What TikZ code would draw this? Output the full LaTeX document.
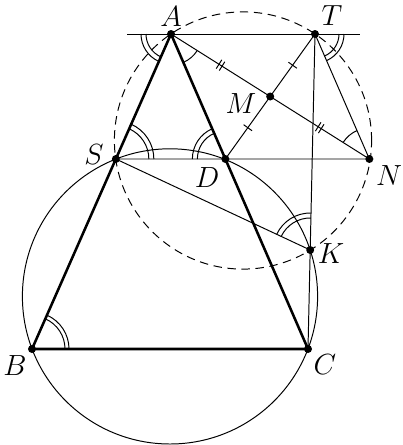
\documentclass[tikz,border=0pt]{standalone}
\usepackage{amsmath, amssymb}
\usepackage{tikz}
\usetikzlibrary{calc, angles, decorations.markings}

\tikzset{
  thinline/.style={line width=0.7pt},
  thickline/.style={line width=1.8pt},
  lbl/.style={font=\fontsize{20}{22}\selectfont, inner sep=0pt},
  arcmark/.style={draw, thinline},
  tickone/.style={postaction={decorate, decoration={markings,
      mark=at position 0.5 with {\draw[thinline] (0,-1.3mm) -- (0,1.3mm);}}}},
  ticktwo/.style={postaction={decorate, decoration={markings,
      mark=at position 0.5 with {\draw[thinline] (-0.45mm,-1.3mm) -- (-0.45mm,1.3mm)
        (0.45mm,-1.3mm) -- (0.45mm,1.3mm);}}}}
}

\begin{document}
\begin{tikzpicture}[x=0.25mm, y=-0.25mm]
    \useasboundingbox (0,0) rectangle (403,445);

    % Points
    \coordinate (A) at (171,34);
    \coordinate (T) at (315,34);
    \coordinate (B) at (32,349);
    \coordinate (C) at (308,349);
    \coordinate (L) at (127,34);
    \coordinate (R) at (360,34);
    \coordinate (D) at ($(A)!125/315!(C)$);
    \coordinate (S) at ($(A)!125/315!(B)$);
    \coordinate (M) at ($(T)!0.5!(D)$);
    \coordinate (N) at ($(A)!2!(M)$);
    \coordinate (K) at ($(T)!216/315!(C)$);
    \coordinate (O1) at (243,140.5);
    \coordinate (O2) at (170,296.4);

    % Circles
    \draw[thinline, dashed, dash pattern=on 6pt off 4pt] (O1) circle [radius=32.15mm];
    \draw[thinline] (O2) circle [radius=36.9mm];

    % Lines
    \draw[thinline] (L) -- (R);
    \draw[thinline] (S) -- (N);
    \draw[thinline] (T) -- (C);
    \draw[thinline] (T) -- (N);
    \draw[thinline] (S) -- (K);
    \draw[thinline, ticktwo] (A) -- (M);
    \draw[thinline, ticktwo] (M) -- (N);
    \draw[thinline, tickone] (T) -- (M);
    \draw[thinline, tickone] (M) -- (D);
    \draw[thickline] (A) -- (B) -- (C) -- cycle;

    % Angle marks
    \pic[arcmark, angle radius=6.25mm] {angle=L--A--B};
    \pic[arcmark, angle radius=7.5mm] {angle=L--A--B};
    \pic[arcmark, angle radius=7.75mm] {angle=C--A--N};
    \pic[arcmark, angle radius=6mm] {angle=N--T--R};
    \pic[arcmark, angle radius=7.25mm] {angle=N--T--R};
    \pic[arcmark, angle radius=7.75mm] {angle=T--N--A};
    \pic[arcmark, angle radius=8.25mm] {angle=D--S--A};
    \pic[arcmark, angle radius=9.5mm] {angle=D--S--A};
    \pic[arcmark, angle radius=7mm] {angle=A--D--S};
    \pic[arcmark, angle radius=8.25mm] {angle=A--D--S};
    \pic[arcmark, angle radius=8mm] {angle=T--K--S};
    \pic[arcmark, angle radius=9.25mm] {angle=T--K--S};
    \pic[arcmark, angle radius=8.25mm] {angle=C--B--A};
    \pic[arcmark, angle radius=9.25mm] {angle=C--B--A};

    % Dots
    \foreach \p in {A,T,M,N,S,D,K,B,C}
        \fill (\p) circle [radius=1mm];

    % Labels
    \node[lbl] (lA) at (171,17) {$A$};
    \node[lbl] (lT) at (332,16) {$T$};
    \node[lbl] (lM) at (241,104) {$M$};
    \node[lbl] (lN) at (389,176) {$N$};
    \node[lbl] (lS) at (94,155) {$S$};
    \node[lbl] (lD) at (207,178) {$D$};
    \node[lbl] (lK) at (331,254) {$K$};
    \node[lbl] (lB) at (15,366) {$B$};
    \node[lbl] (lC) at (325,365) {$C$};
\end{tikzpicture}
\end{document}
